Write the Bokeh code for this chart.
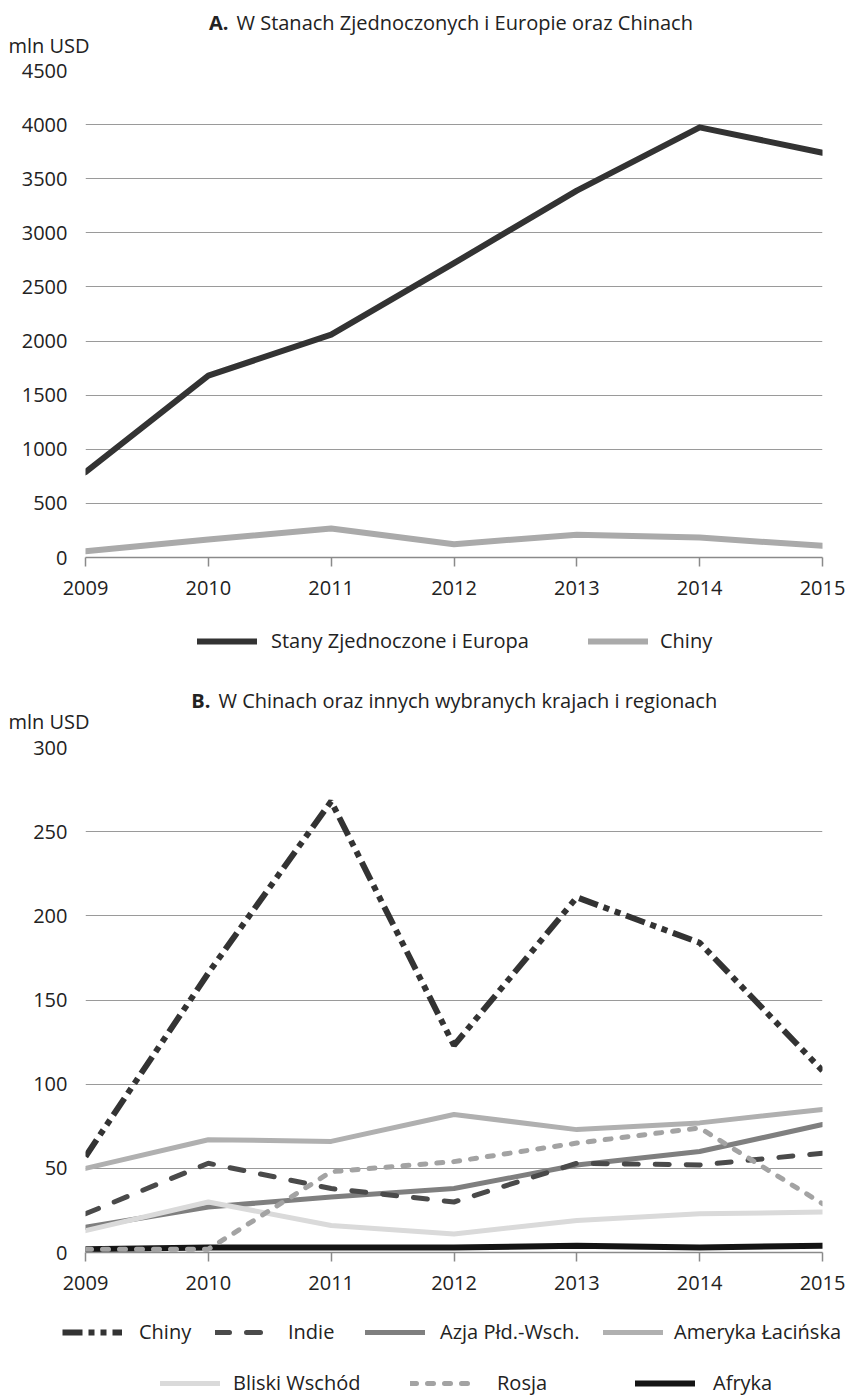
from bokeh.plotting import figure
from bokeh.models import Label, Legend, LegendItem, FixedTicker, Range1d
from bokeh.layouts import column
from bokeh.embed import file_html
from bokeh.resources import INLINE

years = [2009, 2010, 2011, 2012, 2013, 2014, 2015]
us_eu = [788, 1680, 2060, 2720, 3390, 3975, 3740]
china = [57, 166, 268, 123, 211, 184, 108]
india = [23, 53, 38, 30, 53, 52, 59]
sea = [15, 27, 33, 38, 52, 60, 76]
latam = [50, 67, 66, 82, 73, 77, 85]
mideast = [13, 30, 16, 11, 19, 23, 24]
russia = [2, 2, 48, 54, 65, 74, 29]
africa = [2, 3, 3, 3, 4, 3, 4]

title_a = "W Stanach Zjednoczonych i Europie oraz Chinach"
title_b = "W Chinach oraz innych wybranych krajach i regionach"
unit = "mln USD"
ticks_a = list(range(0, 4501, 500))
ticks_b = list(range(0, 301, 50))

FONT = "Open Sans"
FS = "20px"
TXT = "#222222"
W = 848

ST = {
    "us": dict(line_color="#333333", line_width=6, line_cap="round", line_join="round"),
    "cn_a": dict(line_color="#aaaaaa", line_width=6, line_cap="round", line_join="round"),
    "af": dict(line_color="#141414", line_width=6, line_cap="round"),
    "la": dict(line_color="#b0b0b0", line_width=5, line_cap="round"),
    "sea": dict(line_color="#7f7f7f", line_width=5, line_cap="round"),
    "me": dict(line_color="#dadada", line_width=5, line_cap="round"),
    "in": dict(line_color="#4a4a4a", line_width=5, line_cap="round", line_dash="14 17"),
    "ru": dict(line_color="#a3a3a3", line_width=5, line_cap="round", line_dash="6 11"),
    "cn": dict(line_color="#333333", line_width=6, line_cap="butt", line_dash="20 6 6 6 6 6"),
}


def blank_fig(height):
    p = figure(width=W, height=height, output_backend="svg", toolbar_location=None,
               x_range=Range1d(0, 1), y_range=Range1d(0, 1),
               x_axis_location=None, y_axis_location=None, frame_align=False,
               min_border_left=0, min_border_right=0, min_border_top=0, min_border_bottom=0)
    p.grid.visible = False
    p.outline_line_color = None
    return p


def chart_fig(height, top, bottom, ymax, yticks):
    p = figure(width=W, height=height, output_backend="svg", toolbar_location=None,
               x_range=Range1d(2009, 2015), y_range=Range1d(0, ymax), frame_align=False,
               min_border_left=85, min_border_right=26, min_border_top=top,
               min_border_bottom=bottom)
    p.outline_line_color = None
    p.xgrid.grid_line_color = None
    p.ygrid.grid_line_color = "#9a9a9a"
    p.ygrid.grid_line_width = 1.2
    p.yaxis.ticker = FixedTicker(ticks=yticks)
    p.xaxis.ticker = FixedTicker(ticks=years)
    p.yaxis.axis_line_color = None
    p.yaxis.major_tick_line_color = None
    p.yaxis.minor_tick_line_color = None
    p.yaxis.major_label_standoff = 12
    p.xaxis.axis_line_color = "#8a8a8a"
    p.xaxis.axis_line_width = 1.5
    p.xaxis.major_tick_line_color = "#8a8a8a"
    p.xaxis.major_tick_line_width = 1.5
    p.xaxis.major_tick_out = 9
    p.xaxis.major_tick_in = 0
    p.xaxis.minor_tick_line_color = None
    p.xaxis.major_label_standoff = 14
    for ax in (p.xaxis, p.yaxis):
        ax.major_label_text_font = FONT
        ax.major_label_text_font_size = FS
        ax.major_label_text_color = TXT
    return p


def title_fig(height, letter, text, xr, y_title, y_unit):
    p = blank_fig(height)
    p.add_layout(Label(x=xr, y=y_title, x_units="screen", y_units="screen", text=letter,
                       text_font=FONT, text_font_size=FS, text_font_style="bold",
                       text_color=TXT, text_align="right", text_baseline="middle"))
    p.add_layout(Label(x=xr + 8, y=y_title, x_units="screen", y_units="screen", text=text,
                       text_font=FONT, text_font_size=FS, text_color=TXT,
                       text_align="left", text_baseline="middle"))
    p.add_layout(Label(x=8, y=y_unit, x_units="screen", y_units="screen", text=unit,
                       text_font=FONT, text_font_size=FS, text_color=TXT,
                       text_align="left", text_baseline="middle"))
    return p


def legend_fig(height, entries):
    # series lines are drawn from their data but lie outside this figure's ranges;
    # only their legend samples are visible here
    p = blank_fig(height)
    for label, values, key, x, y, standoff in entries:
        r = p.line(years, values, **ST[key])
        lg = Legend(items=[LegendItem(label=label, renderers=[r])],
                    location=(x, y), orientation="horizontal",
                    label_text_font=FONT, label_text_font_size=FS, label_text_color=TXT,
                    glyph_width=60, glyph_height=24, label_height=24, label_standoff=standoff,
                    border_line_color=None, background_fill_alpha=0,
                    margin=0, padding=0)
        p.add_layout(lg)
    return p


# ---- Chart A ----
ta = title_fig(58, "A.", title_a, 228, 36, 13)
pa = chart_fig(552, 12, 53, 4500, ticks_a)
pa.line(years, us_eu, **ST["us"])
pa.line(years, china, **ST["cn_a"])
la = legend_fig(70, [("Stany Zjednoczone i Europa", us_eu, "us", 197, 26, 14),
                     ("Chiny", china, "cn_a", 588, 26, 12)])

# ---- Chart B ----
tb = title_fig(55, "B.", title_b, 210, 35, 14)
pb = chart_fig(565, 12, 48, 300, ticks_b)
pb.line(years, africa, **ST["af"])
pb.line(years, latam, **ST["la"])
pb.line(years, sea, **ST["sea"])
pb.line(years, mideast, **ST["me"])
pb.line(years, india, **ST["in"])
pb.line(years, russia, **ST["ru"])
pb.line(years, china, **ST["cn"])
lb = legend_fig(96, [("Chiny", china, "cn", 62, 51, 17),
                     ("Indie", india, "in", 215, 51, 13),
                     ("Azja Płd.-Wsch.", sea, "sea", 365, 51, 15),
                     ("Ameryka Łacińska", latam, "la", 603, 51, 11),
                     ("Bliski Wschód", mideast, "me", 160, 0, 13),
                     ("Rosja", russia, "ru", 410, 0, 27),
                     ("Afryka", africa, "af", 635, 0, 18)])

layout = column(ta, pa, la, tb, pb, lb, spacing=0)
open("out.html", "w").write(file_html(layout, INLINE))
